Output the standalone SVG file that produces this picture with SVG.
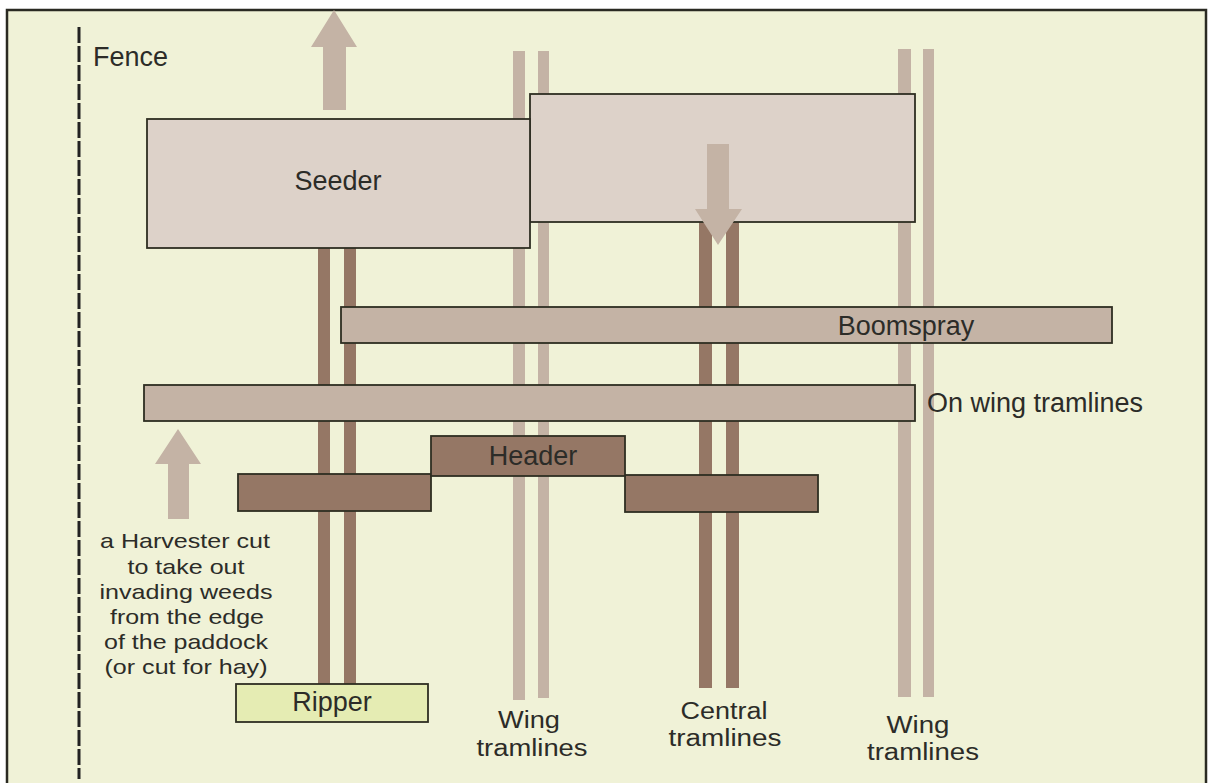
<svg xmlns="http://www.w3.org/2000/svg" width="1208" height="783" viewBox="0 0 1208 783">
<style>
.txt{font-family:"Liberation Sans",Arial,sans-serif;fill:#2c2c28;font-size:27px}
.sm{font-size:21px}
.lb{font-size:23px}
.box{stroke:#2e2e22;stroke-width:1.8}
.light{fill:#C4B3A5}
.pale{fill:#DDD2C9}
.dark{fill:#957765}
.arrow{fill:#C4B3A5}
</style>
<rect x="0" y="0" width="1208" height="783" fill="#ffffff"/>
<rect id="frame" x="7" y="10" width="1199" height="800" fill="#F0F2D7" stroke="#2a2a22" stroke-width="2.5"/>
<g id="fence">
<line x1="79" y1="27" x2="79" y2="779" stroke="#222" stroke-width="3" stroke-dasharray="16 3"/>
<text class="txt" x="93" y="66">Fence</text>
</g>
<g id="connectors">
<g id="wing-tramlines-left" class="light">
<rect x="513" y="51" width="12" height="649"/>
<rect x="538" y="51" width="11" height="647"/>
</g>
<g id="wing-tramlines-right" class="light">
<rect x="898" y="49" width="13" height="648"/>
<rect x="923" y="49" width="11" height="648"/>
</g>
<g id="central-tramlines" class="dark">
<rect x="699" y="215" width="13" height="473"/>
<rect x="726" y="215" width="13" height="473"/>
</g>
<g id="ripper-tramlines" class="dark">
<rect x="318" y="240" width="12" height="444"/>
<rect x="344" y="240" width="12" height="444"/>
</g>
</g>
<g id="arrow-up-top">
<polygon class="arrow" points="323,110 346,110 346,47 357,47 334,10 311,47 323,47"/>
</g>
<g id="upper-box">
<rect class="box pale" x="530" y="94" width="385" height="128"/>
</g>
<g id="seeder">
<rect class="box pale" x="147" y="119" width="383" height="129"/>
<text class="txt" x="338" y="190" text-anchor="middle">Seeder</text>
</g>
<g id="arrow-down">
<polygon class="arrow" points="707,144 729,144 729,209 742,209 718,245 695,209 707,209"/>
</g>
<g id="boomspray">
<rect class="box light" x="341" y="307" width="771" height="36"/>
<text class="txt" x="906" y="335" text-anchor="middle">Boomspray</text>
</g>
<g id="on-wing">
<rect class="box light" x="144" y="385" width="771" height="36"/>
<text class="txt" x="927" y="412">On wing tramlines</text>
</g>
<g id="header">
<rect class="box dark" x="238" y="474" width="193" height="37"/>
<rect class="box dark" x="625" y="475" width="193" height="37"/>
<rect class="box dark" x="431" y="436" width="194" height="40"/>
<text class="txt" x="533" y="465" text-anchor="middle">Header</text>
</g>
<g id="arrow-up-left">
<polygon class="arrow" points="168,519 189,519 189,464 201,464 178,429 155,464 168,464"/>
</g>
<g id="harvester-note" class="txt sm" text-anchor="middle">
<text x="185" y="548" textLength="170" lengthAdjust="spacingAndGlyphs">a Harvester cut</text>
<text x="186" y="574" textLength="117" lengthAdjust="spacingAndGlyphs">to take out</text>
<text x="186" y="599" textLength="173" lengthAdjust="spacingAndGlyphs">invading weeds</text>
<text x="187" y="624" textLength="154" lengthAdjust="spacingAndGlyphs">from the edge</text>
<text x="186" y="649" textLength="164" lengthAdjust="spacingAndGlyphs">of the paddock</text>
<text x="186" y="674" textLength="163" lengthAdjust="spacingAndGlyphs">(or cut for hay)</text>
</g>
<g id="ripper">
<rect class="box" fill="#E5ECB3" x="236" y="684" width="192" height="38"/>
<text class="txt" x="332" y="711" text-anchor="middle">Ripper</text>
</g>
<g id="labels" class="txt lb" text-anchor="middle">
<text x="529" y="728" textLength="62" lengthAdjust="spacingAndGlyphs">Wing</text>
<text x="532" y="756" textLength="111" lengthAdjust="spacingAndGlyphs">tramlines</text>
<text x="724" y="719" textLength="87" lengthAdjust="spacingAndGlyphs">Central</text>
<text x="725" y="746" textLength="113" lengthAdjust="spacingAndGlyphs">tramlines</text>
<text x="918" y="733" textLength="63" lengthAdjust="spacingAndGlyphs">Wing</text>
<text x="923" y="760" textLength="112" lengthAdjust="spacingAndGlyphs">tramlines</text>
</g>
</svg>
